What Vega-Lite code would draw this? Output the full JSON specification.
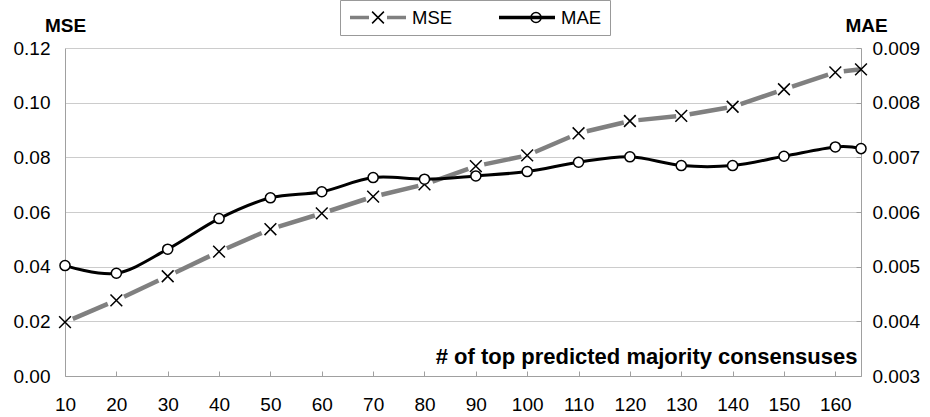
{
  "$schema": "https://vega.github.io/schema/vega-lite/v6.json",
  "width": 796,
  "height": 328,
  "autosize": {"type": "none"},
  "padding": {"left": 65, "top": 48, "right": 69, "bottom": 41},
  "background": "white",
  "config": {
    "font": "Liberation Sans",
    "view": {"stroke": null},
    "axis": {"labelFontSize": 19, "labelColor": "#000000", "titleColor": "#000000", "domainColor": "#a0a0a0", "tickColor": "#a0a0a0", "gridColor": "#cccccc", "labelFlush": false}
  },
  "datasets": {
    "mse": [
      {"x": 10, "value": 0.0197, "series": "MSE"},
      {"x": 20, "value": 0.0277, "series": "MSE"},
      {"x": 30, "value": 0.0365, "series": "MSE"},
      {"x": 40, "value": 0.0455, "series": "MSE"},
      {"x": 50, "value": 0.0537, "series": "MSE"},
      {"x": 60, "value": 0.0595, "series": "MSE"},
      {"x": 70, "value": 0.0656, "series": "MSE"},
      {"x": 80, "value": 0.0701, "series": "MSE"},
      {"x": 90, "value": 0.0768, "series": "MSE"},
      {"x": 100, "value": 0.0807, "series": "MSE"},
      {"x": 110, "value": 0.0888, "series": "MSE"},
      {"x": 120, "value": 0.0933, "series": "MSE"},
      {"x": 130, "value": 0.0952, "series": "MSE"},
      {"x": 140, "value": 0.0985, "series": "MSE"},
      {"x": 150, "value": 0.1049, "series": "MSE"},
      {"x": 160, "value": 0.1111, "series": "MSE"},
      {"x": 165, "value": 0.1122, "series": "MSE"}
    ],
    "mae": [
      {"x": 10, "value": 0.00502, "series": "MAE"},
      {"x": 20, "value": 0.00488, "series": "MAE"},
      {"x": 30, "value": 0.00532, "series": "MAE"},
      {"x": 40, "value": 0.00588, "series": "MAE"},
      {"x": 50, "value": 0.00626, "series": "MAE"},
      {"x": 60, "value": 0.00637, "series": "MAE"},
      {"x": 70, "value": 0.00663, "series": "MAE"},
      {"x": 80, "value": 0.00660, "series": "MAE"},
      {"x": 90, "value": 0.00666, "series": "MAE"},
      {"x": 100, "value": 0.00674, "series": "MAE"},
      {"x": 110, "value": 0.00691, "series": "MAE"},
      {"x": 120, "value": 0.00701, "series": "MAE"},
      {"x": 130, "value": 0.00685, "series": "MAE"},
      {"x": 140, "value": 0.00685, "series": "MAE"},
      {"x": 150, "value": 0.00702, "series": "MAE"},
      {"x": 160, "value": 0.00719, "series": "MAE"},
      {"x": 165, "value": 0.00716, "series": "MAE"}
    ]
  },
  "layer": [
    {
      "data": {"name": "mse"},
      "layer": [
        {
          "transform": [
            {"window": [{"op": "lead", "field": "x", "as": "x2"}, {"op": "lead", "field": "value", "as": "v2"}], "sort": [{"field": "x"}]},
            {"filter": "datum.x2 != null"}
          ],
          "mark": {"type": "rule", "strokeWidth": 4.5, "strokeDash": [38, 17], "strokeDashOffset": 46.5, "strokeCap": "butt"},
          "encoding": {
            "x": {
              "field": "x", "type": "quantitative",
              "scale": {"domain": [10, 165], "nice": false, "zero": false},
              "axis": {
                "values": [10, 20, 30, 40, 50, 60, 70, 80, 90, 100, 110, 120, 130, 140, 150, 160],
                "grid": false, "tickSize": -5, "labelPadding": 24, "labelFlush": false,
                "title": "# of top predicted majority consensuses",
                "titleFontWeight": "bold", "titleFontSize": 22,
                "titleX": 792, "titleY": -20, "titleAlign": "right", "titleBaseline": "middle"
              }
            },
            "x2": {"field": "x2"},
            "y": {
              "field": "value", "type": "quantitative",
              "scale": {"domain": [0, 0.12], "nice": false, "zero": false},
              "axis": {
                "orient": "left", "values": [0, 0.02, 0.04, 0.06, 0.08, 0.1, 0.12], "format": ".2f",
                "grid": true, "ticks": false, "labelPadding": 15,
                "title": "MSE", "titleAngle": 0, "titleFontWeight": "bold", "titleFontSize": 19,
                "titleX": 0, "titleY": -23, "titleAlign": "center", "titleBaseline": "middle"
              }
            },
            "y2": {"field": "v2"},
            "color": {
              "field": "series", "type": "nominal",
              "scale": {"domain": ["MSE", "MAE"], "range": ["#808080", "#000000"]},
              "legend": {
                "orient": "none", "legendX": 275, "legendY": -48, "direction": "horizontal", "title": null,
                "symbolType": "stroke", "symbolSize": 3136, "symbolStrokeWidth": 3.5, "clipHeight": 19,
                "labelFontSize": 18.5, "labelOffset": 4, "columnPadding": 44, "padding": 8,
                "strokeColor": "#999999",
                "encode": {
                  "symbols": {
                    "update": {
                      "strokeDash": {"signal": "datum.value === 'MSE' ? [19, 18] : [1, 0]"}
                    }
                  }
                }
              }
            }
          }
        },
        {
          "mark": {"type": "point", "size": 3136, "filled": false, "stroke": "#000000", "strokeWidth": 1.5, "opacity": 1},
          "encoding": {
            "x": {"field": "x", "type": "quantitative"},
            "y": {"field": "value", "type": "quantitative"},
            "shape": {
              "field": "series", "type": "nominal",
              "scale": {
                "domain": ["MSE", "MAE", "z"],
                "range": [
                  "M-0.21,-0.21L0.21,0.21M-0.21,0.21L0.21,-0.21",
                  "M-0.18,0A0.18,0.18,0,1,0,0.18,0A0.18,0.18,0,1,0,-0.18,0Z",
                  "M0,0"
                ]
              },
              "legend": {
                "orient": "none", "legendX": 275, "legendY": -48, "direction": "horizontal", "title": null,
                "values": ["MSE", "MAE"],
                "symbolSize": 3136, "symbolStrokeWidth": 1.5, "symbolOffset": 1, "clipHeight": 19,
                "labelFontSize": 18.5, "labelOffset": 6, "columnPadding": 93, "padding": 8,
                "labelExpr": "''",
                "symbolFillColor": "#ffffff", "symbolStrokeColor": "#000000",
                "encode": {
                  "symbols": {
                    "update": {
                      "fill": {"value": "#ffffff"},
                      "stroke": {"value": "#000000"},
                      "opacity": {"value": 1}
                    }
                  }
                }
              }
            }
          }
        }
      ]
    },
    {
      "data": {"name": "mae"},
      "layer": [
        {
          "mark": {"type": "line", "interpolate": "cardinal", "strokeWidth": 3},
          "encoding": {
            "x": {"field": "x", "type": "quantitative"},
            "y": {
              "field": "value", "type": "quantitative",
              "scale": {"domain": [0.003, 0.009], "nice": false, "zero": false},
              "axis": {
                "orient": "right", "values": [0.003, 0.004, 0.005, 0.006, 0.007, 0.008, 0.009], "format": ".3f",
                "grid": false, "ticks": true, "tickSize": -5, "labelPadding": 16,
                "title": "MAE", "titleAngle": 0, "titleFontWeight": "bold", "titleFontSize": 19,
                "titleX": 5, "titleY": -23, "titleAlign": "center", "titleBaseline": "middle"
              }
            },
            "color": {"field": "series", "type": "nominal"}
          }
        },
        {
          "mark": {"type": "point", "size": 3136, "filled": true, "fill": "#ffffff", "stroke": "#000000", "strokeWidth": 1.5, "opacity": 1},
          "encoding": {
            "x": {"field": "x", "type": "quantitative"},
            "y": {"field": "value", "type": "quantitative"},
            "shape": {"field": "series", "type": "nominal"}
          }
        }
      ]
    }
  ],
  "resolve": {"scale": {"y": "independent"}}
}
